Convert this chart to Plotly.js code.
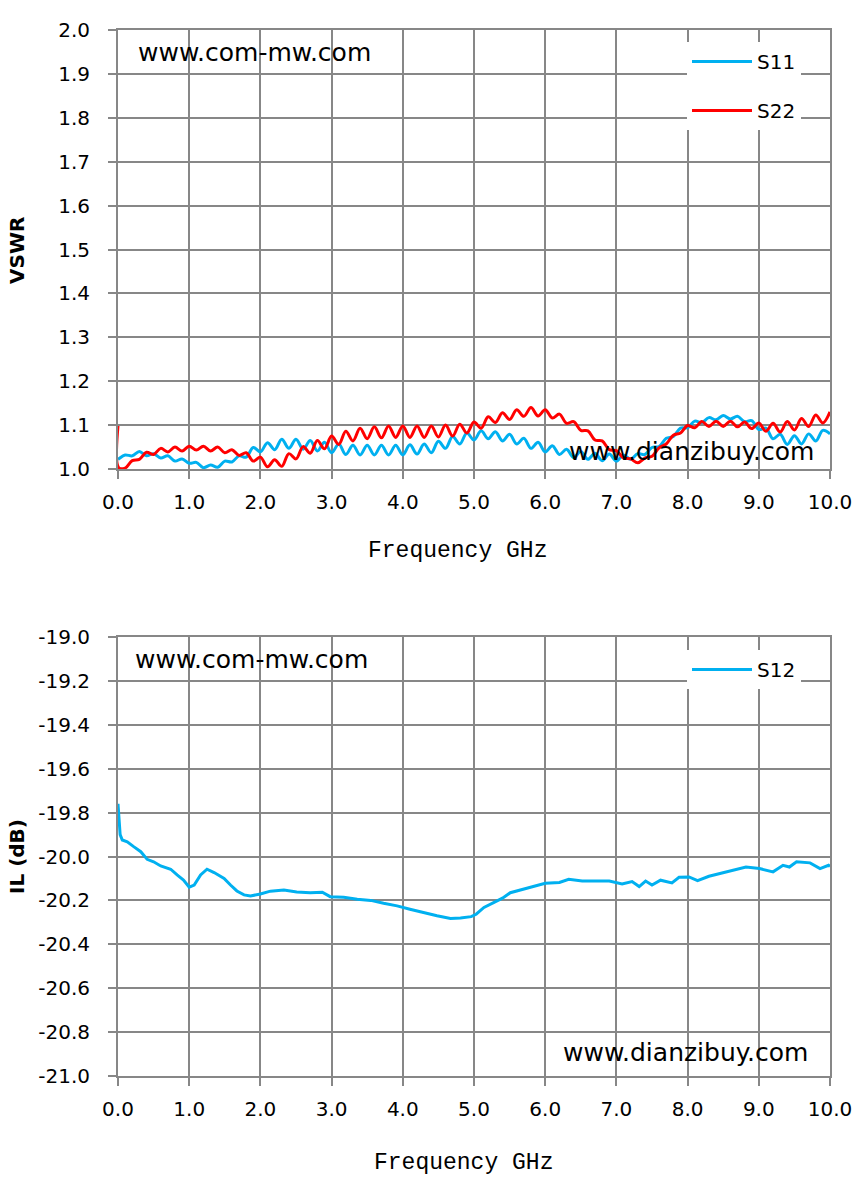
<!DOCTYPE html>
<html>
<head>
<meta charset="utf-8">
<script src="https://cdn.plot.ly/plotly-3.0.1.min.js"></script>
<style>
html,body{margin:0;padding:0;background:#fff;}
#chart{width:867px;height:1187px;}
</style>
</head>
<body>
<div id="chart"></div>
<script>
// ---- Data ----
var freqGHz = [0, 0.01, 0.1, 0.2, 0.3, 0.4, 0.5, 0.6, 0.7, 0.8, 0.9,
  1.0, 1.1, 1.2, 1.3, 1.4, 1.5, 1.6, 1.7, 1.8, 1.9,
  2.0, 2.1, 2.2, 2.3, 2.4, 2.5, 2.6, 2.7, 2.8, 2.9,
  3.0, 3.1, 3.2, 3.3, 3.4, 3.5, 3.6, 3.7, 3.8, 3.9,
  4.0, 4.1, 4.2, 4.3, 4.4, 4.5, 4.6, 4.7, 4.8, 4.9,
  5.0, 5.1, 5.2, 5.3, 5.4, 5.5, 5.6, 5.7, 5.8, 5.9,
  6.0, 6.1, 6.2, 6.3, 6.4, 6.5, 6.6, 6.7, 6.8, 6.9,
  7.0, 7.1, 7.2, 7.3, 7.4, 7.5, 7.6, 7.7, 7.8, 7.9,
  8.0, 8.1, 8.2, 8.3, 8.4, 8.5, 8.6, 8.7, 8.8, 8.9,
  9.0, 9.1, 9.2, 9.3, 9.4, 9.5, 9.6, 9.7, 9.8, 9.9, 10.0];

var vswrS11 = [1.022, 1.023, 1.032, 1.030, 1.040, 1.030, 1.035, 1.025, 1.030, 1.018, 1.023,
  1.013, 1.015, 1.003, 1.009, 1.004, 1.018, 1.016, 1.030, 1.027, 1.049,
  1.039, 1.060, 1.044, 1.068, 1.047, 1.068, 1.045, 1.065, 1.041, 1.061,
  1.037, 1.057, 1.033, 1.054, 1.032, 1.054, 1.032, 1.054, 1.032, 1.054,
  1.032, 1.055, 1.034, 1.057, 1.037, 1.063, 1.047, 1.074, 1.057, 1.082,
  1.066, 1.087, 1.069, 1.085, 1.064, 1.079, 1.057, 1.070, 1.047, 1.061,
  1.039, 1.053, 1.033, 1.045, 1.026, 1.040, 1.022, 1.036, 1.019, 1.034,
  1.018, 1.032, 1.022, 1.035, 1.033, 1.049, 1.051, 1.070, 1.074, 1.093,
  1.094, 1.109, 1.106, 1.117, 1.112, 1.122, 1.114, 1.120, 1.108, 1.110,
  1.090, 1.093, 1.069, 1.079, 1.056, 1.076, 1.057, 1.080, 1.064, 1.088, 1.080];

var vswrS22 = [1.098, 1.003, 1.002, 1.019, 1.022, 1.038, 1.033, 1.047, 1.039, 1.050, 1.041,
  1.052, 1.043, 1.052, 1.041, 1.050, 1.037, 1.044, 1.031, 1.037, 1.018,
  1.027, 1.005, 1.021, 1.006, 1.035, 1.023, 1.051, 1.036, 1.065, 1.046,
  1.075, 1.056, 1.086, 1.064, 1.093, 1.069, 1.096, 1.071, 1.098, 1.072,
  1.098, 1.072, 1.098, 1.072, 1.098, 1.073, 1.100, 1.075, 1.102, 1.082,
  1.107, 1.093, 1.119, 1.106, 1.128, 1.113, 1.135, 1.120, 1.140, 1.121,
  1.135, 1.116, 1.125, 1.104, 1.108, 1.088, 1.087, 1.066, 1.064, 1.044,
  1.042, 1.025, 1.023, 1.014, 1.025, 1.029, 1.048, 1.057, 1.077, 1.082,
  1.099, 1.094, 1.108, 1.097, 1.109, 1.097, 1.109, 1.096, 1.107, 1.092,
  1.105, 1.086, 1.104, 1.084, 1.108, 1.089, 1.115, 1.097, 1.123, 1.105, 1.130];

var freqS12 = [0, 0.03, 0.06, 0.13, 0.22, 0.32, 0.41, 0.5, 0.6, 0.74, 0.83, 0.92,
  1.0, 1.07, 1.16, 1.25, 1.35, 1.49, 1.58, 1.67, 1.77, 1.86,
  2.0, 2.14, 2.33, 2.51, 2.7, 2.87, 2.98, 3.17, 3.36, 3.55, 3.73, 3.92,
  4.1, 4.29, 4.48, 4.67, 4.81, 4.96, 5.03, 5.14, 5.26, 5.4, 5.51, 5.68, 5.84,
  6.0, 6.2, 6.33, 6.52, 6.71, 6.9, 7.08, 7.22, 7.32, 7.41, 7.5, 7.62, 7.78, 7.88,
  8.02, 8.14, 8.3, 8.49, 8.68, 8.82, 9.01, 9.2, 9.34, 9.43, 9.53, 9.72, 9.86, 9.98, 10.0];

var ilS12 = [-19.76, -19.90, -19.925, -19.933, -19.955, -19.978, -20.013, -20.024, -20.043, -20.058, -20.084, -20.107,
  -20.14, -20.13, -20.084, -20.058, -20.073, -20.10, -20.13, -20.157, -20.175, -20.18,
  -20.171, -20.158, -20.153, -20.162, -20.165, -20.163, -20.183, -20.186, -20.195, -20.20, -20.213, -20.225,
  -20.24, -20.256, -20.27, -20.282, -20.28, -20.274, -20.263, -20.232, -20.213, -20.19, -20.165, -20.15, -20.134,
  -20.122, -20.118, -20.104, -20.112, -20.112, -20.112, -20.125, -20.114, -20.137, -20.112, -20.13, -20.108, -20.12, -20.095,
  -20.093, -20.11, -20.09, -20.075, -20.062, -20.048, -20.055, -20.07, -20.04, -20.048, -20.024, -20.029, -20.055, -20.04, -20.045];

// tick labels of the IL axis (written with a plain hyphen, as in the reference)
var ilTickValues = [-21.0, -20.8, -20.6, -20.4, -20.2, -20.0, -19.8, -19.6, -19.4, -19.2, -19.0];
var ilTickLabels = ['-21.0', '-20.8', '-20.6', '-20.4', '-20.2', '-20.0', '-19.8', '-19.6', '-19.4', '-19.2', '-19.0'];

var seriesNames = ['S11', 'S22', 'S12'];
var xTitle = 'Frequency GHz';
var yTitleTop = 'VSWR';
var yTitleBottom = 'IL (dB)';
var watermarkA = 'www.com-mw.com';
var watermarkB = 'www.dianzibuy.com';

// ---- Styling ----
var BLUE = '#00B0F0', RED = '#FF0000', GRID = '#878787';
var FONT = 'DejaVu Sans';
var MONO = 'Liberation Mono';

var traces = [
  {x: freqGHz, y: vswrS11, name: seriesNames[0], type: 'scatter', mode: 'lines',
   line: {color: BLUE, width: 3, shape: 'spline', smoothing: 1},
   xaxis: 'x', yaxis: 'y', legend: 'legend', legendgroup: 'g1'},
  {x: freqGHz, y: vswrS22, name: seriesNames[1], type: 'scatter', mode: 'lines',
   line: {color: RED, width: 3, shape: 'spline', smoothing: 1},
   xaxis: 'x', yaxis: 'y', legend: 'legend', legendgroup: 'g2'},
  {x: freqS12, y: ilS12, name: seriesNames[2], type: 'scatter', mode: 'lines',
   line: {color: BLUE, width: 3},
   xaxis: 'x2', yaxis: 'y2', legend: 'legend2', legendgroup: 'g3'}
];

function axisCommon() {
  return {
    showgrid: true, gridcolor: GRID, gridwidth: 2, zeroline: false,
    showline: true, linecolor: GRID, linewidth: 2, mirror: true,
    ticks: 'outside', ticklen: 8, tickwidth: 2, tickcolor: GRID,
    tickfont: {family: FONT, size: 20, color: '#000'}, fixedrange: true
  };
}
function xAxis(anchor) {
  return Object.assign(axisCommon(), {
    anchor: anchor, domain: [0, 1], range: [0, 10], dtick: 1, tick0: 0, tickformat: '.1f',
    ticklabelstandoff: 6
  });
}

var W = 712, H = 1046, L = 118, T = 30;
function px(x) { return (x - L) / W; }
function py(y) { return (T + H - y) / H; }

var yTop = Object.assign(axisCommon(), {
  anchor: 'x', domain: [(1076 - 469) / H, 1], range: [1.0, 2.0], dtick: 0.1, tick0: 1.0,
  tickformat: '.1f', ticklabelstandoff: 14
});
var yBottom = Object.assign(axisCommon(), {
  anchor: 'x2', domain: [0, (1076 - 637) / H], range: [-21.0, -19.0],
  tickmode: 'array', tickvals: ilTickValues, ticktext: ilTickLabels, ticklabelstandoff: 14
});

var annotations = [
  {text: yTitleTop, x: px(17), y: py(250), textangle: -90},
  {text: yTitleBottom, x: px(17), y: py(856), textangle: -90}
].map(function (a) {
  return Object.assign({xref: 'paper', yref: 'paper', showarrow: false, xanchor: 'center', yanchor: 'middle',
    font: {family: FONT, size: 20, color: '#000', weight: 'bold'}}, a);
}).concat([
  {text: xTitle, x: px(457), y: py(551)},
  {text: xTitle, x: px(463), y: py(1163)}
].map(function (a) {
  return Object.assign({xref: 'paper', yref: 'paper', showarrow: false, xanchor: 'center', yanchor: 'middle',
    font: {family: MONO, size: 23, color: '#000'}}, a);
})).concat([
  {text: watermarkA, x: px(254), y: py(52)},
  {text: watermarkA, x: px(251), y: py(659)},
  {text: watermarkB, x: px(691), y: py(451)},
  {text: watermarkB, x: px(685), y: py(1052)}
].map(function (a) {
  return Object.assign({xref: 'paper', yref: 'paper', showarrow: false, xanchor: 'center', yanchor: 'middle',
    font: {family: FONT, size: 25, color: '#000'}}, a);
}));

var legendBase = {
  xref: 'paper', yref: 'paper', xanchor: 'left', yanchor: 'top',
  bgcolor: '#ffffff', borderwidth: 0, traceorder: 'grouped', tracegroupgap: 20,
  itemwidth: 60,
  font: {family: FONT, size: 20, color: '#000'}
};

var layout = {
  width: 867, height: 1187,
  margin: {l: L, r: 867 - 830, t: T, b: 1187 - 1076, pad: 0},
  paper_bgcolor: '#fff', plot_bgcolor: '#fff',
  showlegend: true,
  xaxis: xAxis('y'),
  yaxis: yTop,
  xaxis2: xAxis('y2'),
  yaxis2: yBottom,
  legend: Object.assign({}, legendBase, {x: px(687), y: py(42)}),
  legend2: Object.assign({}, legendBase, {x: px(687), y: py(650)}),
  annotations: annotations
};

Plotly.newPlot('chart', traces, layout, {staticPlot: true, displayModeBar: false});
</script>
</body>
</html>
